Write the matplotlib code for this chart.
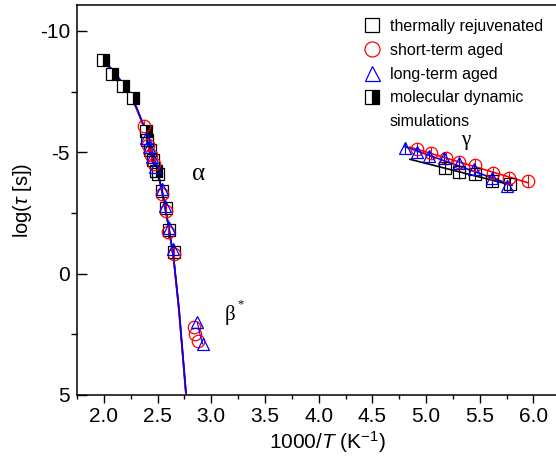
import numpy as np
import matplotlib
matplotlib.use('Agg')
import matplotlib.pyplot as plt

plt.rcParams['font.family'] = ['Liberation Sans', 'DejaVu Sans']
plt.rcParams['mathtext.fontset'] = 'custom'
plt.rcParams['mathtext.rm'] = 'Liberation Sans'
plt.rcParams['mathtext.it'] = 'Liberation Sans:italic'
plt.rcParams['axes.unicode_minus'] = False

# alpha relaxation, 1000/T vs log(tau)
rej_alpha_x = [2.40, 2.43, 2.46, 2.50, 2.54, 2.58, 2.61, 2.65]
rej_alpha_y = [-5.5, -5.1, -4.7, -4.1, -3.4, -2.7, -1.8, -0.9]
short_alpha_x = [2.37, 2.41, 2.44, 2.47, 2.54, 2.58, 2.60, 2.65]
short_alpha_y = [-6.1, -5.3, -4.9, -4.5, -3.3, -2.6, -1.7, -0.8]
long_alpha_x = [2.39, 2.42, 2.45, 2.48, 2.54, 2.57, 2.61, 2.64]
long_alpha_y = [-5.6, -5.2, -4.8, -4.4, -3.5, -2.8, -1.9, -1.0]

# MD simulations
md_x = [1.99, 2.08, 2.18, 2.27, 2.39, 2.49]
md_y = [-8.8, -8.22, -7.73, -7.23, -5.87, -4.21]

# VFT fit curves
fit_x = [1.99, 2.10, 2.20, 2.30, 2.40, 2.50, 2.55, 2.60, 2.65, 2.70, 2.765]
fit_rej_y = [-8.8, -8.25, -7.65, -6.85, -5.75, -4.2, -3.2, -2.0, -0.6, 1.5, 5.0]
fit_short_y = [-8.8, -8.25, -7.65, -6.85, -5.75, -4.2, -3.2, -2.0, -0.6, 1.6, 5.0]
fit_long_y = [-8.85, -8.3, -7.7, -6.9, -5.8, -4.25, -3.25, -2.05, -0.65, 1.45, 4.9]

# beta* process
short_beta_x = [2.84, 2.85, 2.88]
short_beta_y = [2.19, 2.47, 2.77]
long_beta_x = [2.87, 2.89, 2.92]
long_beta_y = [2.0, 2.4, 2.9]

# gamma process
short_gamma_x = [4.92, 5.05, 5.19, 5.31, 5.46, 5.62, 5.77, 5.95]
short_gamma_y = [-5.12, -4.96, -4.75, -4.59, -4.46, -4.13, -3.93, -3.80]
long_gamma_x = [4.80, 4.92, 5.03, 5.17, 5.31, 5.45, 5.61, 5.75]
long_gamma_y = [-5.17, -5.0, -4.83, -4.75, -4.55, -4.30, -3.93, -3.60]
rej_gamma_x = [5.18, 5.31, 5.46, 5.61, 5.78]
rej_gamma_y = [-4.34, -4.17, -4.09, -3.80, -3.68]

fig = plt.figure(figsize=(5.56, 4.58), dpi=100)
ax = fig.add_axes([0.1385, 0.1376, 0.8615, 0.8515])

ms = 8.5
ax.plot(fit_x, fit_rej_y, color='black', lw=1.2)
ax.plot(fit_x, fit_short_y, color='red', lw=1.2)
ax.plot(fit_x, fit_long_y, color='blue', lw=1.2)

# gamma linear fits
for gx, gy, c, x0, x1 in [(rej_gamma_x, rej_gamma_y, 'black', 4.85, 5.80),
                          (short_gamma_x, short_gamma_y, 'red', 4.85, 5.95),
                          (long_gamma_x, long_gamma_y, 'blue', 4.80, 5.80)]:
    p = np.polyfit(gx, gy, 1)
    xx = np.array([x0, x1])
    ax.plot(xx, np.polyval(p, xx), color=c, lw=1.2)

sq = dict(marker='s', ms=ms, mfc='none', mec='black', ls='none', mew=0.9)
ci = dict(marker='o', ms=ms + 0.5, mfc='none', mec='red', ls='none', mew=0.9)
tr = dict(marker='^', ms=ms + 0.5, mfc='none', mec='blue', ls='none', mew=0.9)

ax.errorbar(rej_alpha_x + rej_gamma_x, rej_alpha_y + rej_gamma_y, yerr=0.25,
            ecolor='black', elinewidth=0.8, capsize=0, **sq)
ax.errorbar(short_alpha_x + short_gamma_x, short_alpha_y + short_gamma_y, yerr=0.25,
            ecolor='red', elinewidth=0.8, capsize=0, **ci)
ax.errorbar(long_alpha_x + long_gamma_x, long_alpha_y + long_gamma_y, yerr=0.25,
            ecolor='blue', elinewidth=0.8, capsize=0, **tr)
ax.plot(short_beta_x, short_beta_y, **ci)
ax.plot(long_beta_x, long_beta_y, color='blue', lw=0.8)
ax.plot(long_beta_x[::2], long_beta_y[::2], **tr)
ax.plot(md_x, md_y, marker='s', ms=ms, ls='none', fillstyle='right',
        mfc='black', mfcalt='white', mec='black', mew=0.9)

# legend handles
h1, = ax.plot([], [], **sq)
h2, = ax.plot([], [], **ci)
h3, = ax.plot([], [], **tr)
h4, = ax.plot([], [], marker='s', ms=ms, ls='none', fillstyle='right',
              mfc='black', mfcalt='white', mec='black', mew=0.9)
h5, = ax.plot([], [], ls='none', marker='none')
ax.legend([h1, h2, h3, h4, h5],
          ['thermally rejuvenated', 'short-term aged', 'long-term aged',
           'molecular dynamic', 'simulations'],
          loc='upper left', bbox_to_anchor=(0.60, 0.965), frameon=False,
          fontsize=11.5, handlelength=1.0, handletextpad=0.6, borderpad=0,
          borderaxespad=0, labelspacing=0.56, markerscale=1.2)

ax.text(2.82, -4.1, 'α', fontsize=18, family='Liberation Serif', va='center')
ax.text(3.12, 1.7, 'β', fontsize=15, family='Liberation Serif', va='center')
ax.text(3.24, 1.25, '*', fontsize=9, family='Liberation Serif', va='center')
ax.text(5.33, -5.5, 'γ', fontsize=15, family='Liberation Serif', va='center')

ax.set_xlim(1.75, 6.21)
ax.set_ylim(5, -11.07)
ax.set_xticks(np.arange(2.0, 6.01, 0.5))
ax.set_xticks(np.arange(1.75, 6.21, 0.25), minor=True)
ax.set_yticks([-10, -5, 0, 5])
ax.set_yticks([-7.5, -2.5, 2.5], minor=True)
ax.set_xticklabels(['2.0', '2.5', '3.0', '3.5', '4.0', '4.5', '5.0', '5.5', '6.0'])
ax.tick_params(axis='x', which='major', direction='out', length=6, width=1, labelsize=15, pad=3)
ax.tick_params(axis='x', which='minor', direction='out', length=3, width=1)
ax.tick_params(axis='y', which='major', direction='in', length=7, width=1, labelsize=15, pad=5)
ax.tick_params(axis='y', which='minor', direction='out', length=4, width=1)
ax.spines['right'].set_visible(False)
for s in ['left', 'bottom', 'top']:
    ax.spines[s].set_linewidth(1.1)

ax.set_xlabel(r'1000/$\mathit{T}$ (K$^{\mathregular{-1}}$)', fontsize=15)
ax.xaxis.set_label_coords(0.522, -0.088)
ax.set_ylabel(r'log($\mathit{\tau}$ [s])', fontsize=14.5)
ax.yaxis.set_label_coords(-0.09, 0.5)

fig.savefig('out.png', dpi=100)
